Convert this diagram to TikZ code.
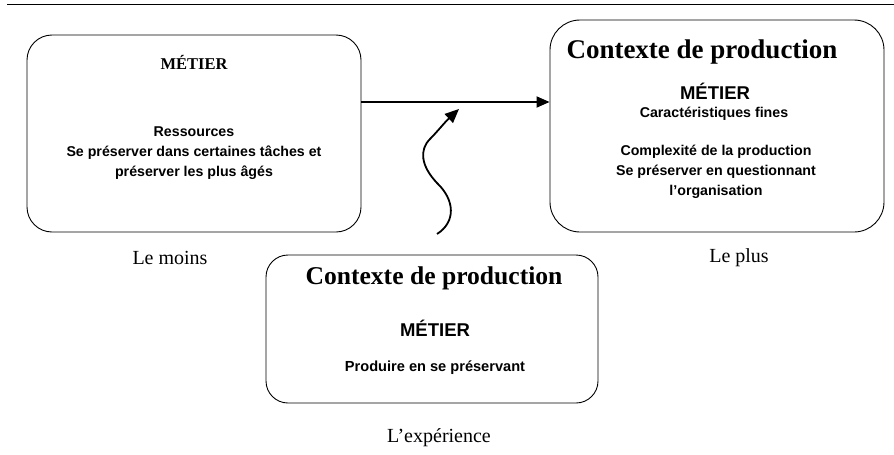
\documentclass[tikz,border=0pt]{standalone}
\usepackage{fontspec}
\setmainfont{Liberation Serif}
\setsansfont{Liberation Sans}
\usepackage{tikz}
\usetikzlibrary{arrows.meta}
\newcommand{\taille}[2]{\fontsize{#1}{#2}\selectfont}
\tikzset{
  boite/.style={draw, line width=0.9pt, rounded corners=#1, inner sep=0pt},
  titre/.style={font=\rmfamily\bfseries\taille{27}{30}, inner sep=0pt},
  grastxt/.style={font=\sffamily\bfseries\taille{14.2}{20}, align=center, inner sep=0pt},
  legende/.style={font=\rmfamily\taille{20}{22}, inner sep=0pt},
  fleche/.style={line width=1.8pt, -{Triangle[length=13pt,width=11pt]}}
}

\begin{document}
\begin{tikzpicture}[x=1pt,y=-1pt]
\useasboundingbox (0,0) rectangle (894,455);
% filet du haut
\coordinate (filA) at (7,4.5);
\coordinate (filB) at (894,4.5);
\draw[line width=1.4pt] (filA) -- (filB);
% les trois cadres
\node[boite=25pt, minimum width=334pt, minimum height=197pt] (moinsbox) at (194,133.5) {};
\node[boite=30pt, minimum width=334pt, minimum height=212pt] (plusbox) at (717,126) {};
\node[boite=22pt, minimum width=332pt, minimum height=148pt] (expbox) at (432,329) {};
% cadre de gauche
\node[font=\rmfamily\bfseries\taille{16.5}{18}, inner sep=0pt] (metierA) at (194,62) {MÉTIER};
\node[grastxt] (resA) at (194,153) {Ressources\\Se préserver dans certaines tâches et\\préserver les plus âgés};
% cadre de droite
\node[titre] (titreB) at (702,52) {Contexte de production};
\node[grastxt, font=\sffamily\bfseries\taille{18.5}{20}] (metierB) at (715,91) {MÉTIER};
\node[grastxt] (caracB) at (714,114) {Caractéristiques fines};
\node[grastxt] (complexB) at (716,172) {Complexité de la production\\Se préserver en questionnant\\l’organisation};
% cadre du bas
\node[titre, font=\rmfamily\bfseries\taille{25.6}{30}] (titreC) at (434,278) {Contexte de production};
\node[grastxt, font=\sffamily\bfseries\taille{18.5}{20}] (metierC) at (435,328) {MÉTIER};
\node[grastxt, font=\sffamily\bfseries\taille{14.6}{20}] (prodC) at (435,368) {Produire en se préservant};
% legendes
\node[legende] (moins) at (170,258) {Le moins};
\node[legende] (plus) at (739,258) {Le plus};
\node[legende] (exper) at (439,438) {L’expérience};
% fleches
\draw[fleche] (moinsbox.east |- 0,102) -- (plusbox.west |- 0,102);
\coordinate (vagueA) at (437,234);
\coordinate (vagueB) at (459,109);
\draw[fleche, -{Triangle[length=14pt,width=12pt]}] (vagueA) .. controls (456,222) and (455,200) .. (437,183)
  .. controls (421,166) and (419,150) .. (430,139)
  .. controls (437,132) and (445,122) .. (vagueB);
\end{tikzpicture}
\end{document}
